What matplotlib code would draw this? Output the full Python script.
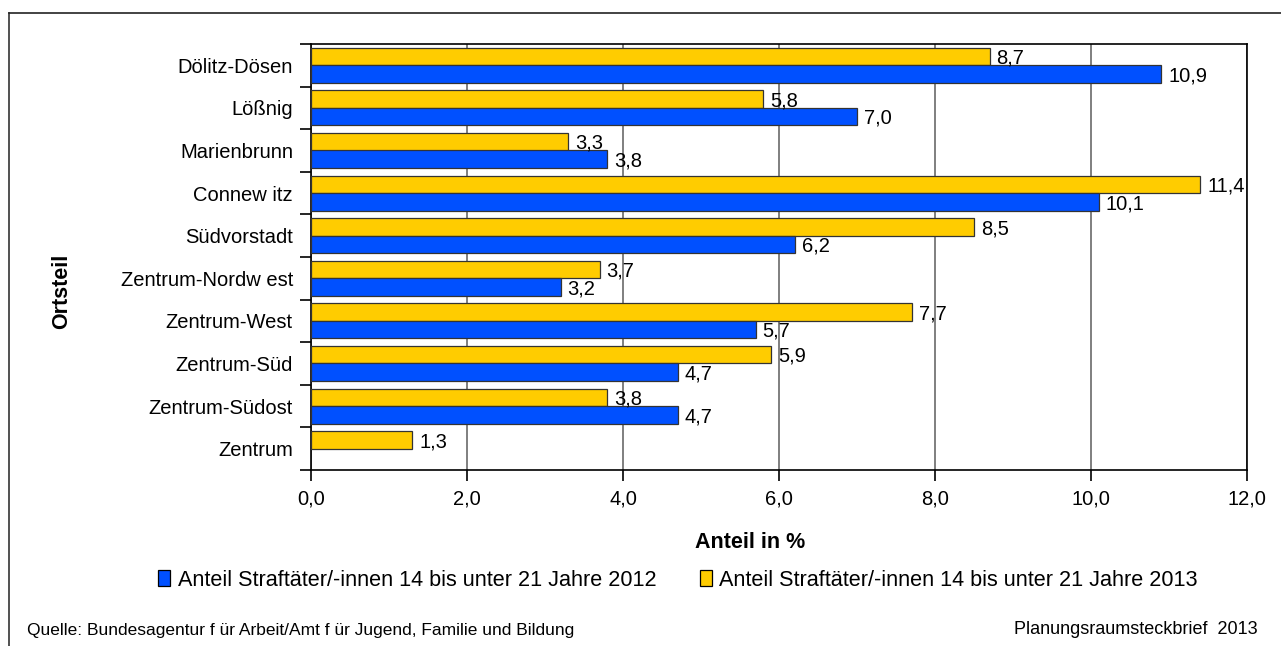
import matplotlib
matplotlib.use("Agg")
import matplotlib.pyplot as plt
import numpy as np
from matplotlib.patches import Patch
from matplotlib.lines import Line2D

plt.rcParams['font.family'] = ['Liberation Sans', 'DejaVu Sans']

categories = ["Dölitz-Dösen", "Lößnig", "Marienbrunn", "Connew itz", "Südvorstadt",
              "Zentrum-Nordw est", "Zentrum-West", "Zentrum-Süd", "Zentrum-Südost", "Zentrum"]
values_2012 = [10.9, 7.0, 3.8, 10.1, 6.2, 3.2, 5.7, 4.7, 4.7, np.nan]
values_2013 = [8.7, 5.8, 3.3, 11.4, 8.5, 3.7, 7.7, 5.9, 3.8, 1.3]
xticks = [0, 2, 4, 6, 8, 10, 12]
label_2012 = "Anteil Straftäter/-innen 14 bis unter 21 Jahre 2012"
label_2013 = "Anteil Straftäter/-innen 14 bis unter 21 Jahre 2013"

W, H = 1281, 646
fig = plt.figure(figsize=(W / 100, H / 100), dpi=100)
ax = fig.add_axes([311 / W, 1 - 470 / H, (1247 - 311) / W, (470 - 44) / H])

FS = 14.5
n = len(categories)
y = np.arange(n)
bh = 0.41
blue = '#0050FF'
yellow = '#FFCC00'
ax.barh(y - bh / 2, values_2013, height=bh, color=yellow, edgecolor='#333333', linewidth=0.9, zorder=3)
ax.barh(y + bh / 2, values_2012, height=bh, color=blue, edgecolor='#333333', linewidth=0.9, zorder=3)

def fmt(v):
    return f"{v:.1f}".replace('.', ',')

for i in range(n):
    v13 = values_2013[i]
    v12 = values_2012[i]
    if not np.isnan(v13):
        ax.annotate(fmt(v13), (v13, y[i] - bh / 2 + 0.04), xytext=(5, 0), textcoords='offset points',
                    va='center', ha='left', fontsize=FS, zorder=5)
    if not np.isnan(v12):
        ax.annotate(fmt(v12), (v12, y[i] + bh / 2 + 0.04), xytext=(5, 0), textcoords='offset points',
                    va='center', ha='left', fontsize=FS, zorder=5)

ax.set_xlim(0, 12)
ax.set_ylim(n - 0.5, -0.5)
ax.set_xticks(xticks)
ax.set_xticklabels([fmt(t) for t in xticks], fontsize=FS)
ax.set_yticks(y)
ax.set_yticklabels(categories, fontsize=FS)
ax.tick_params(axis='y', length=0, pad=13)
ax.set_yticks(np.arange(-0.5, n, 1), minor=True)
ax.tick_params(axis='y', which='minor', length=8, width=1.2, direction='out')
ax.tick_params(axis='x', length=8, width=1.2, direction='out', pad=6)
ax.xaxis.grid(True, color='#7f7f7f', linewidth=1.4, zorder=0)
ax.set_axisbelow(True)
for s in ax.spines.values():
    s.set_linewidth(1.2)
    s.set_color('black')

fig.text(750 / W, 1 - 543 / H, "Anteil in %", ha='center', va='center', fontsize=15.5, fontweight='bold')
fig.text(62 / W, 1 - 291 / H, "Ortsteil", ha='center', va='center', rotation=90, fontsize=15.5, fontweight='bold')

handles = [Patch(facecolor=blue, edgecolor='black', linewidth=0.9, label=label_2012),
           Patch(facecolor=yellow, edgecolor='black', linewidth=0.9, label=label_2013)]
fig.legend(handles=handles, loc='center', bbox_to_anchor=(678 / W, 1 - 580 / H), ncol=2, frameon=False,
           fontsize=15.6, handlelength=0.55, handleheight=0.7, handletextpad=0.35, columnspacing=2.0)

fig.text(27 / W, 1 - 630 / H, "Quelle: Bundesagentur f ür Arbeit/Amt f ür Jugend, Familie und Bildung",
         ha='left', va='center', fontsize=12.5)
fig.text(1258 / W, 1 - 630 / H, "Planungsraumsteckbrief  2013", ha='right', va='center', fontsize=13)

# outer frame
fig.add_artist(Line2D([9 / W, 9 / W], [0, 1 - 13 / H], transform=fig.transFigure, color='#333333', linewidth=1.2))
fig.add_artist(Line2D([9 / W, 1], [1 - 13 / H, 1 - 13 / H], transform=fig.transFigure, color='#222222', linewidth=1.2))

fig.savefig("out.png", dpi=100)
